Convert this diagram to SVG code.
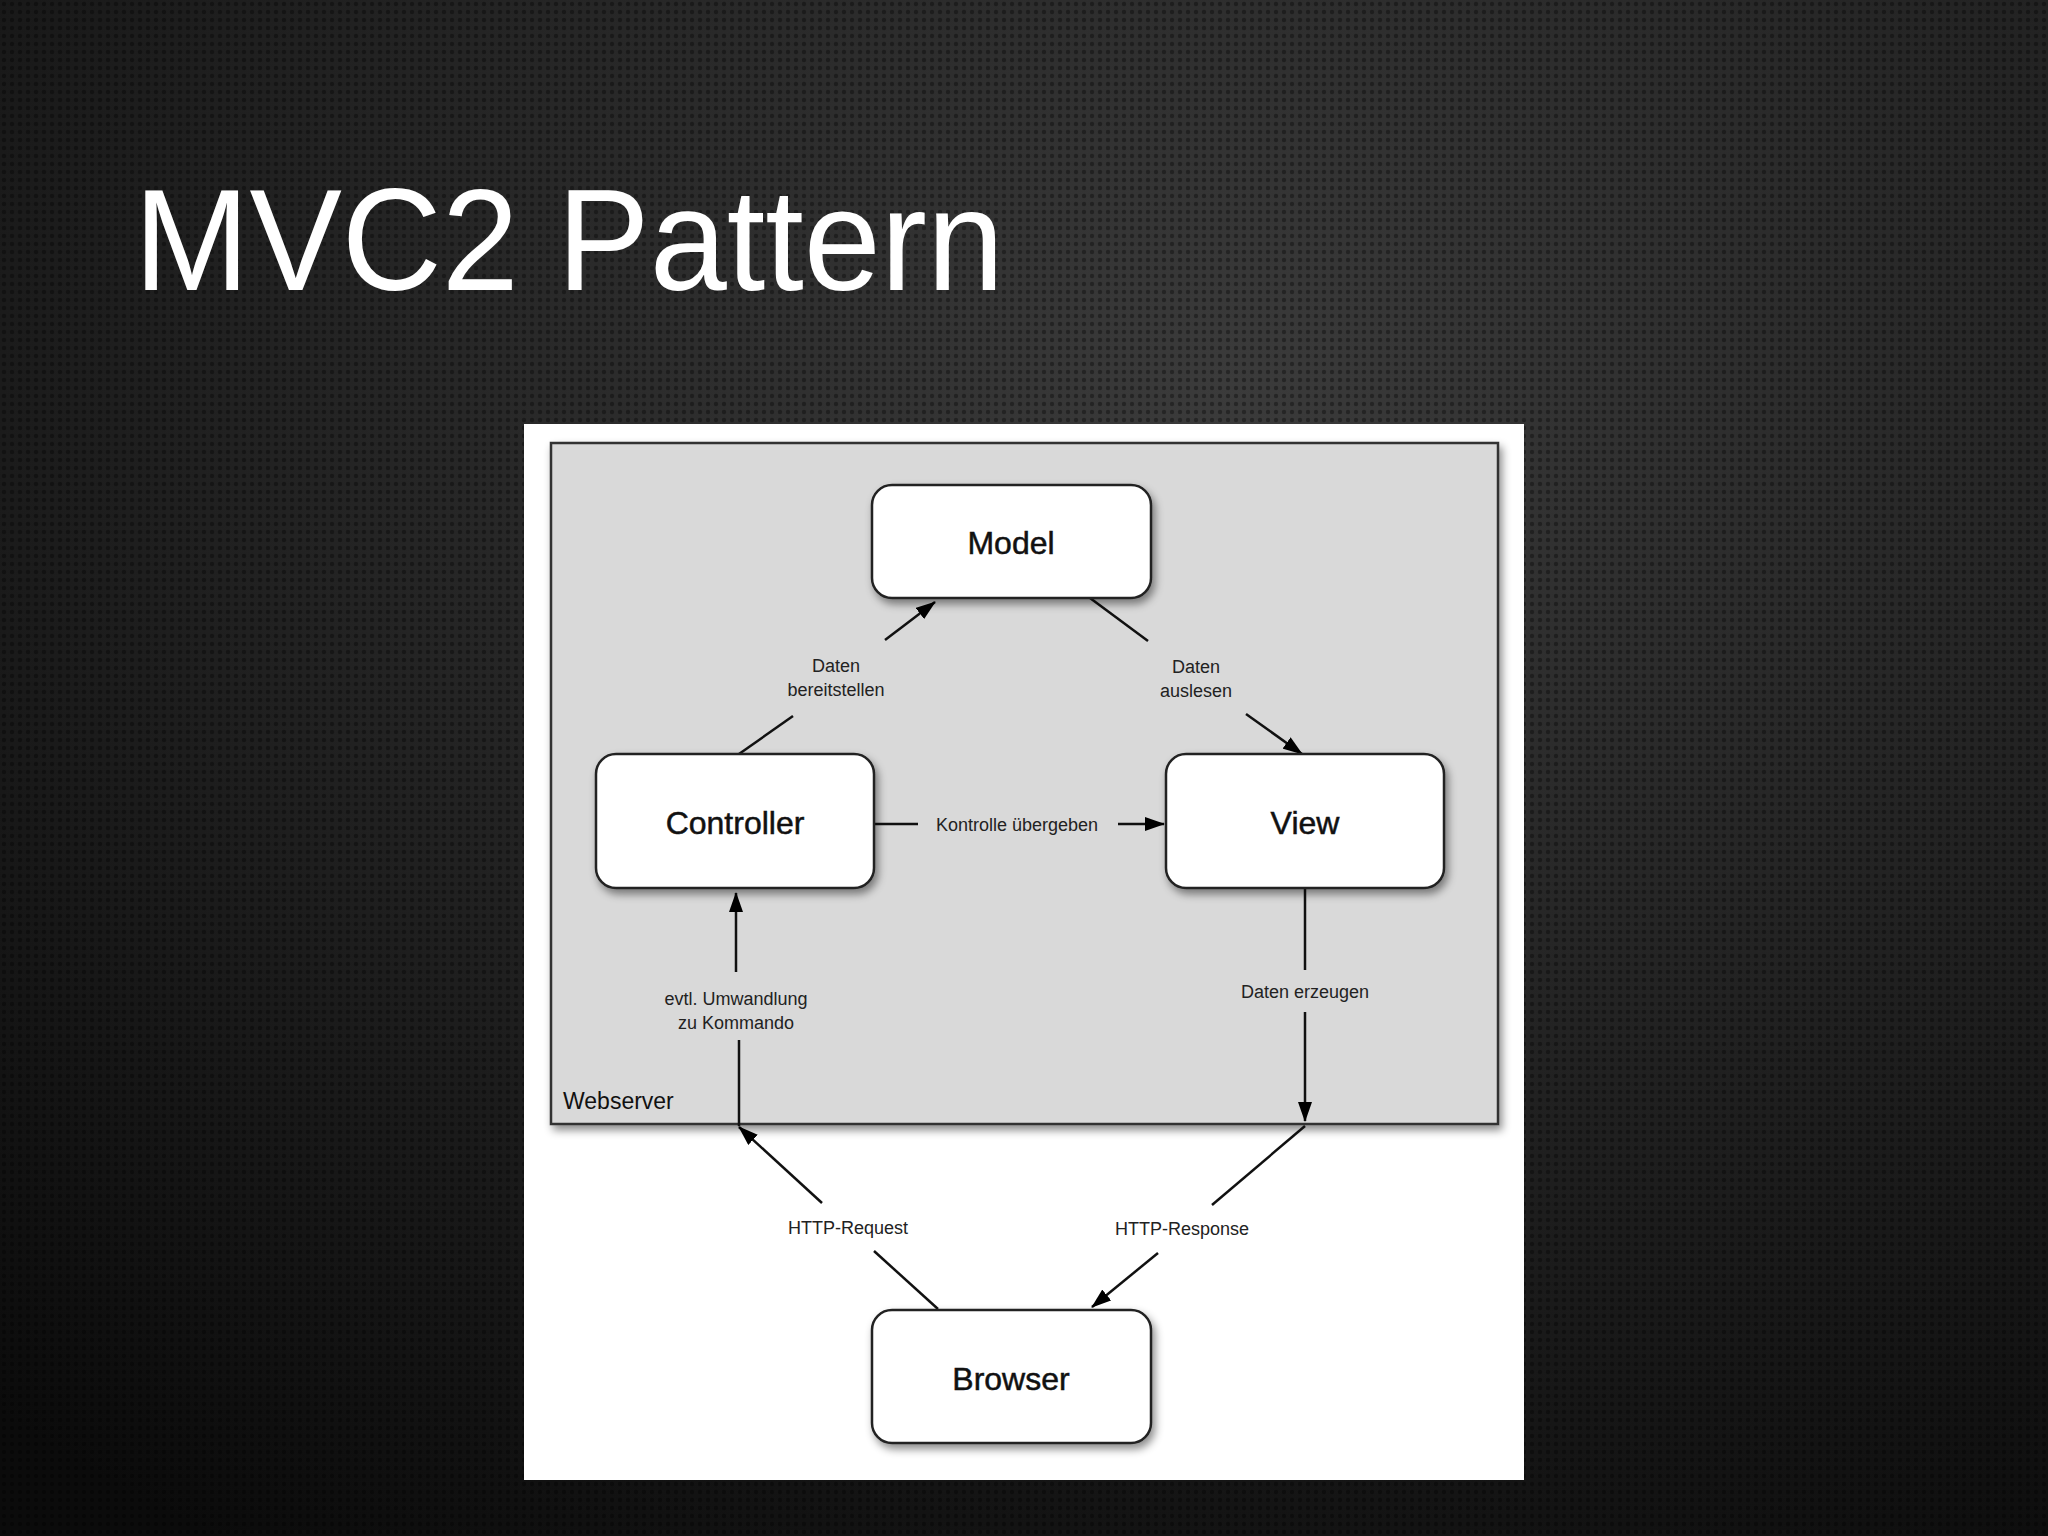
<svg xmlns="http://www.w3.org/2000/svg" width="2048" height="1536" viewBox="0 0 2048 1536">
<defs>
<radialGradient id="bg" cx="0.6" cy="0.25" r="0.9">
<stop offset="0" stop-color="#3b3b3b"/><stop offset="1" stop-color="#0b0b0b"/>
</radialGradient>
<pattern id="dots" width="8" height="8" patternUnits="userSpaceOnUse">
<circle cx="4" cy="4" r="2.2" fill="#000" opacity="0.35"/>
</pattern>
<filter id="sh" x="-10%" y="-10%" width="125%" height="125%">
<feDropShadow dx="3" dy="5" stdDeviation="4" flood-color="#000" flood-opacity="0.45"/>
</filter>
<marker id="ah" markerWidth="20" markerHeight="14" refX="19" refY="7" orient="auto" markerUnits="userSpaceOnUse" viewBox="0 0 20 14">
<path d="M0,0 L20,7 L0,14 z" fill="#000"/>
</marker>
<style>
.node rect{fill:#fff;stroke:#222;stroke-width:2.5}
.nt{font-family:"Liberation Sans",Arial,sans-serif;font-size:32px;fill:#111;text-anchor:middle;stroke:#111;stroke-width:0.5}
.lt{font-family:"Liberation Sans",Arial,sans-serif;font-size:18px;fill:#222;text-anchor:middle}
.conn line,.conn polyline{stroke:#111;stroke-width:2.5;fill:none}
.arr{marker-end:url(#ah)}
</style>
</defs>
<rect width="2048" height="1536" fill="url(#bg)"/>
<rect width="2048" height="1536" fill="url(#dots)"/>
<text x="134" y="290" font-family="Liberation Sans,Arial,sans-serif" font-size="144" fill="#fff" textLength="870" lengthAdjust="spacingAndGlyphs">MVC2 Pattern</text>
<rect x="524" y="424" width="1000" height="1056" fill="#fff"/>
<g id="webserver">
<rect x="551" y="443" width="947" height="681" fill="#d9d9d9" stroke="#333" stroke-width="2.5" filter="url(#sh)"/>
<text x="563" y="1109" font-family="Liberation Sans,Arial,sans-serif" font-size="23" fill="#111">Webserver</text>
</g>
<g id="connectors" class="conn">
<line x1="739" y1="754" x2="793" y2="716"/>
<line x1="885" y1="640" x2="935" y2="602" class="arr"/>
<line x1="1090" y1="598" x2="1148" y2="641"/>
<line x1="1246" y1="714" x2="1302" y2="754" class="arr"/>
<line x1="874" y1="824" x2="918" y2="824"/>
<line x1="1118" y1="824" x2="1164" y2="824" class="arr"/>
<line x1="1305" y1="888" x2="1305" y2="970"/>
<line x1="1305" y1="1012" x2="1305" y2="1121" class="arr"/>
<line x1="739" y1="1126" x2="739" y2="1040"/>
<line x1="736" y1="972" x2="736" y2="893" class="arr"/>
<line x1="938" y1="1309" x2="874" y2="1251"/>
<line x1="822" y1="1203" x2="739" y2="1127" class="arr"/>
<line x1="1305" y1="1126" x2="1212" y2="1205"/>
<line x1="1158" y1="1253" x2="1092" y2="1307" class="arr"/>
</g>
<g id="labels">
<text class="lt" x="836" y="672">Daten</text><text class="lt" x="836" y="696">bereitstellen</text>
<text class="lt" x="1196" y="673">Daten</text><text class="lt" x="1196" y="697">auslesen</text>
<text class="lt" x="1017" y="831">Kontrolle übergeben</text>
<text class="lt" x="1305" y="998">Daten erzeugen</text>
<text class="lt" x="736" y="1005">evtl. Umwandlung</text><text class="lt" x="736" y="1029">zu Kommando</text>
<text class="lt" x="848" y="1234">HTTP-Request</text>
<text class="lt" x="1182" y="1235">HTTP-Response</text>
</g>
<g id="model" class="node"><rect x="872" y="485" width="279" height="113" rx="20" filter="url(#sh)"/><text class="nt" x="1011" y="554">Model</text></g>
<g id="controller" class="node"><rect x="596" y="754" width="278" height="134" rx="20" filter="url(#sh)"/><text class="nt" x="735" y="834">Controller</text></g>
<g id="view" class="node"><rect x="1166" y="754" width="278" height="134" rx="20" filter="url(#sh)"/><text class="nt" x="1305" y="834">View</text></g>
<g id="browser" class="node"><rect x="872" y="1310" width="279" height="133" rx="20" filter="url(#sh)"/><text class="nt" x="1011" y="1390">Browser</text></g>
</svg>
